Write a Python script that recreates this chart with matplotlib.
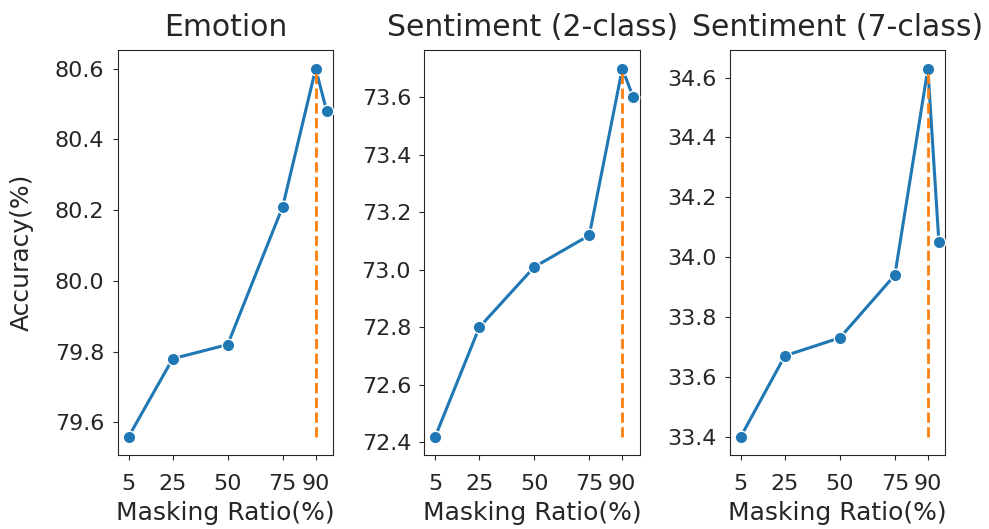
"""
Accuracy vs. masking ratio for the three tasks.
"""

import matplotlib
matplotlib.use("Agg")
import matplotlib.pyplot as plt
import seaborn as sns

# x values: masking ratio (%)
ratios = [5, 25, 50, 75, 90, 95]
tick_ratios = [5, 25, 50, 75, 90]

titles = ["Emotion", "Sentiment (2-class)", "Sentiment (7-class)"]
emotion_acc = [79.56, 79.78, 79.82, 80.21, 80.60, 80.48]
sent2_acc = [72.42, 72.80, 73.01, 73.12, 73.70, 73.60]
sent7_acc = [33.40, 33.67, 33.73, 33.94, 34.63, 34.05]
best_ratio = 90

sns.set_style("ticks")
plt.rcParams["font.family"] = ["DejaVu Sans"]

fig = plt.figure(figsize=(9.89, 5.29), dpi=100)
lefts = [0.119, 0.429, 0.738]
width, bottom, height = 0.218, 0.140, 0.765

series = [emotion_acc, sent2_acc, sent7_acc]
for i, (title, acc) in enumerate(zip(titles, series)):
    ax = fig.add_axes([lefts[i], bottom, width, height])
    ax.plot(ratios, acc, color="#1f77b4", lw=2.2, marker="o", ms=9,
            markeredgecolor="white", markeredgewidth=1, zorder=3)
    ax.vlines(best_ratio, min(acc), max(acc), colors="#ff7f0e",
              linestyles="--", lw=2, zorder=4)
    ax.set_xticks(tick_ratios)
    ax.set_xlim(0, 98)
    ax.set_title(title, fontsize=21.5, pad=10)
    ax.set_xlabel("Masking Ratio(%)", fontsize=18, labelpad=5)
    if i == 0:
        ax.set_ylabel("Accuracy(%)", fontsize=18)
        ax.yaxis.set_label_coords(-0.39, 0.5)
    ax.tick_params(labelsize=16, colors="#262626")
    ax.tick_params(axis="x", pad=10)
    ax.tick_params(axis="y", pad=6)

plt.savefig("out.png", dpi=100)
plt.close()
